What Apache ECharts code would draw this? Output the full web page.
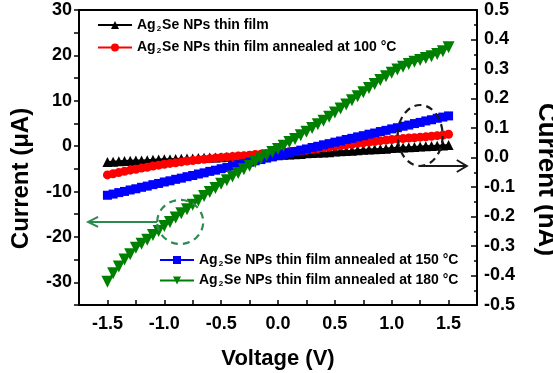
<!DOCTYPE html>
<html><head><meta charset="utf-8">
<script src="https://cdn.jsdelivr.net/npm/echarts@6/dist/echarts.min.js"></script>
<style>html,body{margin:0;padding:0;background:#fff}#c{width:553px;height:373px}</style>
</head><body><div id="c"></div>
<script>
const voltage = [-1.5,-1.45,-1.4,-1.35,-1.3,-1.25,-1.2,-1.15,-1.1,-1.05,-1.0,-0.95,-0.9,-0.85,-0.8,-0.75,-0.7,-0.65,-0.6,-0.55,-0.5,-0.45,-0.4,-0.35,-0.3,-0.25,-0.2,-0.15,-0.1,-0.05,0,0.05,0.1,0.15,0.2,0.25,0.3,0.35,0.4,0.45,0.5,0.55,0.6,0.65,0.7,0.75,0.8,0.85,0.9,0.95,1.0,1.05,1.1,1.15,1.2,1.25,1.3,1.35,1.4,1.45,1.5];

const seriesNames = ['Ag2Se NPs thin film','Ag2Se NPs thin film annealed at 100 °C','Ag2Se NPs thin film annealed at 150 °C','Ag2Se NPs thin film annealed at 180 °C'];

// right axis (nA)
const asDeposited_nA = [-0.015,-0.014,-0.013,-0.012,-0.011,-0.010,-0.010,-0.009,-0.008,-0.007,-0.006,-0.006,-0.005,-0.004,-0.003,-0.003,-0.002,-0.001,0.000,0.000,0.001,0.002,0.003,0.003,0.004,0.005,0.005,0.006,0.007,0.007,0.008,0.009,0.010,0.011,0.012,0.014,0.015,0.016,0.017,0.018,0.020,0.021,0.022,0.023,0.025,0.026,0.027,0.028,0.029,0.030,0.032,0.033,0.034,0.035,0.036,0.037,0.038,0.039,0.040,0.041,0.042];
const annealed100_nA = [-0.059,-0.055,-0.051,-0.047,-0.043,-0.040,-0.036,-0.033,-0.029,-0.026,-0.023,-0.020,-0.018,-0.015,-0.012,-0.010,-0.008,-0.006,-0.004,-0.002,0.000,0.002,0.003,0.005,0.006,0.008,0.010,0.011,0.013,0.014,0.016,0.018,0.020,0.021,0.023,0.025,0.028,0.030,0.033,0.035,0.038,0.040,0.043,0.045,0.048,0.050,0.052,0.054,0.057,0.059,0.061,0.063,0.064,0.066,0.067,0.069,0.070,0.072,0.074,0.076,0.079];
const annealed150_nA = [-0.128,-0.124,-0.119,-0.115,-0.110,-0.106,-0.101,-0.097,-0.092,-0.088,-0.083,-0.079,-0.074,-0.070,-0.065,-0.061,-0.056,-0.052,-0.047,-0.043,-0.038,-0.034,-0.029,-0.025,-0.020,-0.016,-0.011,-0.007,-0.002,0.002,0.007,0.011,0.016,0.020,0.025,0.029,0.034,0.038,0.043,0.047,0.052,0.056,0.061,0.065,0.070,0.074,0.079,0.083,0.088,0.092,0.097,0.101,0.106,0.110,0.115,0.119,0.124,0.128,0.133,0.137,0.141];
// left axis (μA)
const annealed180_uA = [-29.9,-28.0,-26.5,-25.0,-23.8,-22.4,-21.5,-20.6,-19.6,-18.7,-17.6,-16.7,-15.7,-14.8,-13.9,-12.9,-12.0,-11.0,-10.1,-9.2,-8.3,-7.5,-6.7,-5.9,-5.1,-4.3,-3.5,-2.7,-2.0,-1.3,-0.6,0.1,0.9,1.6,2.4,3.2,4.0,4.8,5.6,6.5,7.4,8.3,9.2,10.1,11.0,11.9,12.8,13.7,14.6,15.4,16.2,16.9,17.5,18.1,18.6,19.0,19.4,19.8,20.3,20.9,21.8];

// annotation anchors in data units
const blackCircle = {v: 1.25, i: 0.0746, arrowTo: 1.66};
const greenCircle = {v: -0.86, i: -16.7, arrowTo: -1.67};

const FONT = 'Arial, "Liberation Sans", sans-serif';
const pairs = arr => arr.map((y, k) => [voltage[k], y]);

const legendFmt = n => '{t|Ag}{s|2}{t|' + n.slice(3) + '}';
const legendText = {
  fontFamily: FONT, fontSize: 14, fontWeight: 'bold', color: '#000',
  rich: {
    t: {fontFamily: FONT, fontSize: 14, fontWeight: 'bold', color: '#000'},
    s: {fontFamily: FONT, fontSize: 8, fontWeight: 'bold', color: '#000', padding: [7, 1, 0, 1]}
  }
};

const option = {
  animation: false,
  backgroundColor: '#fff',
  grid: {left: 79, right: 76, top: 10, bottom: 68, outerBoundsMode: 'none'},
  legend: [
    {data: [seriesNames[0], seriesNames[1]], orient: 'vertical', left: 92, top: 13, itemWidth: 34, itemHeight: 10, itemGap: 8,
     formatter: legendFmt, textStyle: legendText},
    {data: [seriesNames[2], seriesNames[3]], orient: 'vertical', left: 154, top: 248, itemWidth: 34, itemHeight: 10, itemGap: 6,
     formatter: legendFmt, textStyle: legendText}
  ],
  xAxis: [
    {type: 'value', position: 'bottom', min: -1.75, max: 1.75, interval: 0.25,
     axisLine: {show: true, onZero: false, lineStyle: {color: '#000', width: 2}},
     axisTick: {show: true, inside: true, length: 5, lineStyle: {color: '#000', width: 1.5}},
     axisLabel: {margin: 10, color: '#000', fontFamily: FONT, fontSize: 18, fontWeight: 'bold',
       formatter: v => {const d = v * 2; if (Math.abs(d - Math.round(d)) > 1e-6 || Math.abs(v) > 1.6) return ''; return Math.abs(v) < 1e-9 ? '0.0' : v.toFixed(1);}},
     splitLine: {show: false},
     name: 'Voltage (V)', nameLocation: 'middle', nameGap: 43,
     nameTextStyle: {color: '#000', fontFamily: FONT, fontSize: 22, fontWeight: 'bold'}},
    {type: 'value', position: 'top', min: -1.75, max: 1.75, interval: 0.25,
     axisLine: {show: true, onZero: false, lineStyle: {color: '#000', width: 2}},
     axisTick: {show: false}, axisLabel: {show: false}, splitLine: {show: false}}
  ],
  yAxis: [
    {type: 'value', position: 'left', min: -35, max: 30, interval: 5,
     axisLine: {show: true, onZero: false, lineStyle: {color: '#000', width: 2}},
     axisTick: {show: true, inside: false, length: 5, lineStyle: {color: '#000', width: 1.5}},
     axisLabel: {margin: 7, color: '#000', fontFamily: FONT, fontSize: 18, fontWeight: 'bold',
       formatter: v => (Math.round(v) % 10 === 0 ? String(Math.round(v)) : '')},
     splitLine: {show: false},
     name: 'Current (μA)', nameLocation: 'middle', nameGap: 46, nameRotate: 90,
     nameTextStyle: {color: '#000', fontFamily: FONT, fontSize: 24, fontWeight: 'bold', padding: [0, 42, 0, 0]}},
    {type: 'value', position: 'right', min: -0.5, max: 0.5, interval: 0.1,
     axisLine: {show: true, onZero: false, lineStyle: {color: '#000', width: 2}},
     axisTick: {show: true, inside: true, length: 6, lineStyle: {color: '#000', width: 1.5}},
     minorTick: {show: true, splitNumber: 2, length: 3, lineStyle: {color: '#000', width: 1.5}},
     axisLabel: {margin: 7, color: '#000', fontFamily: FONT, fontSize: 18, fontWeight: 'bold',
       formatter: v => (Math.abs(v) < 1e-9 ? '0.0' : v.toFixed(1))},
     splitLine: {show: false},
     name: 'Current (nA)', nameLocation: 'middle', nameGap: 56, nameRotate: -90,
     nameTextStyle: {color: '#000', fontFamily: FONT, fontSize: 26, fontWeight: 'bold', padding: [0, 0, 0, 44]}}
  ],
  series: [
    {name: seriesNames[0], type: 'line', xAxisIndex: 0, yAxisIndex: 1, data: pairs(asDeposited_nA),
     symbol: 'triangle', symbolSize: 10, color: '#000', lineStyle: {width: 2}, itemStyle: {color: '#000'}},
    {name: seriesNames[1], type: 'line', xAxisIndex: 0, yAxisIndex: 1, data: pairs(annealed100_nA),
     symbol: 'circle', symbolSize: 9, color: '#ff0000', lineStyle: {width: 2}, itemStyle: {color: '#ff0000'}},
    {name: seriesNames[2], type: 'line', xAxisIndex: 0, yAxisIndex: 1, data: pairs(annealed150_nA),
     symbol: 'rect', symbolSize: 9, color: '#0000ff', lineStyle: {width: 2}, itemStyle: {color: '#0000ff'}},
    {name: seriesNames[3], type: 'line', xAxisIndex: 0, yAxisIndex: 0, data: pairs(annealed180_uA),
     symbol: 'triangle', symbolRotate: 180, symbolSize: 12, color: '#008000', lineStyle: {width: 2}, itemStyle: {color: '#008000'}}
  ]
};

const chart = echarts.init(document.getElementById('c'), null, {renderer: 'canvas'});
chart.setOption(option);

function px(v, i, yIdx) { return chart.convertToPixel({xAxisIndex: 0, yAxisIndex: yIdx}, [v, i]); }
const bc = px(blackCircle.v, blackCircle.i, 1);
const bEnd = px(blackCircle.arrowTo, blackCircle.i, 1);
const gc = px(greenCircle.v, greenCircle.i, 0);
const gEnd = px(greenCircle.arrowTo, greenCircle.i, 0);
const bRx = 22.5, bRy = 30.5, gRx = 23, gRy = 22;
const dark = '#1a1a1a', green = '#2b8a4e';
const bArrowY = bc[1] + bRy;
chart.setOption({
  graphic: [
    {type: 'ellipse', shape: {cx: bc[0], cy: bc[1], rx: bRx, ry: bRy}, z: 100,
     style: {fill: 'none', stroke: dark, lineWidth: 2.2, lineDash: [7, 5]}},
    {type: 'line', shape: {x1: bc[0] + 3, y1: bArrowY, x2: bEnd[0], y2: bArrowY}, z: 100,
     style: {stroke: dark, lineWidth: 2}},
    {type: 'polyline', shape: {points: [[bEnd[0] - 10, bArrowY - 6], [bEnd[0], bArrowY], [bEnd[0] - 10, bArrowY + 6]]}, z: 100,
     style: {fill: 'none', stroke: dark, lineWidth: 2}},
    {type: 'ellipse', shape: {cx: gc[0], cy: gc[1], rx: gRx, ry: gRy}, z: 100,
     style: {fill: 'none', stroke: green, lineWidth: 2.2, lineDash: [7, 5]}},
    {type: 'line', shape: {x1: gc[0] - gRx, y1: gc[1], x2: gEnd[0], y2: gc[1]}, z: 100,
     style: {stroke: green, lineWidth: 2}},
    {type: 'polyline', shape: {points: [[gEnd[0] + 10, gc[1] - 5], [gEnd[0], gc[1]], [gEnd[0] + 10, gc[1] + 5]]}, z: 100,
     style: {fill: 'none', stroke: green, lineWidth: 2}}
  ]
});
</script>
</body></html>
